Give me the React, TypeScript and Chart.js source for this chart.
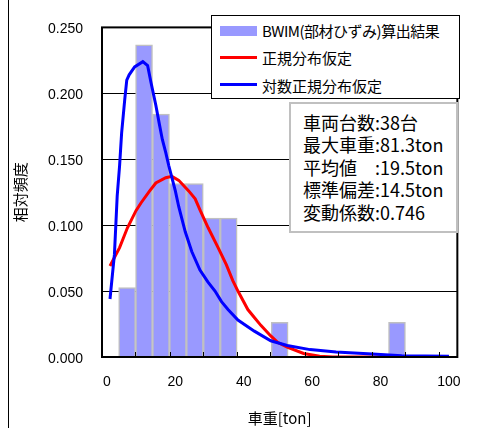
import React, { useEffect, useRef } from "react";
import { Chart, registerables } from "chart.js";

Chart.register(...registerables);

// ---- data ----
const binCenters = [5.9, 10.85, 15.8, 20.75, 25.7, 30.65, 35.6, 50.5, 84.8];
const relFreq = [0.0526, 0.2368, 0.1842, 0.1316, 0.1316, 0.1053, 0.1053, 0.0263, 0.0263];

const normalX = [0.9, 3.7, 6, 8.5, 10, 12.5, 14.3, 17.2, 19, 21, 23.9, 25.8, 27.3, 29.6, 32.5, 34.9, 36.8, 38.3, 41.2, 43.1, 45, 47.9, 50, 52.7, 57.5, 62.2, 66, 70, 80, 90, 100];
const normalY = [0.069, 0.083, 0.098, 0.111, 0.117, 0.126, 0.132, 0.136, 0.137, 0.134, 0.126, 0.12, 0.111, 0.098, 0.083, 0.07, 0.058, 0.05, 0.036, 0.03, 0.024, 0.016, 0.011, 0.0075, 0.0027, 0.0005, 0, 0, 0, 0, 0];

const logNormalX = [0.9, 2.2, 3.0, 3.7, 4.3, 5.2, 5.8, 6.5, 8.1, 10.5, 11.9, 12.9, 14.3, 15.3, 16.2, 17.2, 18.1, 20, 21, 22.9, 24.8, 27.2, 29.5, 31.6, 33.5, 35.4, 38.3, 43.1, 47.9, 52.7, 59.4, 67, 77.6, 86.2, 100];
const logNormalY = [0.044, 0.078, 0.122, 0.145, 0.17, 0.195, 0.21, 0.214, 0.22, 0.224, 0.221, 0.208, 0.191, 0.177, 0.165, 0.155, 0.145, 0.126, 0.114, 0.095, 0.08, 0.066, 0.057, 0.05, 0.042, 0.036, 0.028, 0.0196, 0.0123, 0.0087, 0.0056, 0.0038, 0.0022, 0.001, 0.0005];

const xTickValues = [0, 20, 40, 60, 80, 100];
const yTickValues = [0, 0.05, 0.1, 0.15, 0.2, 0.25];
const binEdgeTicks = [8.35, 18.3, 28.0, 38.0, 47.8, 57.8, 67.6, 77.4, 87.2, 97.0];

const xTitle = "車重[ton]";
const yTitle = "相対頻度";
const legendLabels = ["BWIM(部材ひずみ)算出結果", "正規分布仮定", "対数正規分布仮定"];
const statsLines = ["車両台数:38台", "最大車重:81.3ton", "平均値　:19.5ton", "標準偏差:14.5ton", "変動係数:0.746"];

const CJK = '"Noto Sans CJK JP", "Noto Sans", sans-serif';
const LATIN = '"Liberation Sans", Arial, sans-serif';
const BAR_COLOR = "#9999ff";

const framePlugin = {
  id: "frameAndTicks",
  afterDatasetsDraw(chart: any) {
    const { ctx, chartArea, scales } = chart;
    const { left, top, right, bottom } = chartArea;
    const x = scales.x;
    ctx.save();
    ctx.strokeStyle = "#000";
    ctx.lineWidth = 1;
    binEdgeTicks.forEach((v) => {
      const px = Math.round(x.getPixelForValue(v)) + 0.5;
      ctx.beginPath();
      ctx.moveTo(px, bottom);
      ctx.lineTo(px, bottom - 5);
      ctx.stroke();
    });
    ctx.lineWidth = 2;
    ctx.strokeRect(left, top, right - left, bottom - top);
    ctx.restore();
  },
};

export default function App() {
  const canvasRef = useRef<HTMLCanvasElement | null>(null);

  useEffect(() => {
    if (!canvasRef.current) return;
    const chart = new Chart(canvasRef.current, {
      type: "bar",
      data: {
        datasets: [
          {
            type: "line",
            label: legendLabels[2],
            data: logNormalX.map((x, i) => ({ x, y: logNormalY[i] })),
            borderColor: "#0000ff",
            borderWidth: 3,
            pointRadius: 0,
            tension: 0,
            fill: false,
            order: 0,
          } as any,
          {
            type: "line",
            label: legendLabels[1],
            data: normalX.map((x, i) => ({ x, y: normalY[i] })),
            borderColor: "#ff0000",
            borderWidth: 3,
            pointRadius: 0,
            tension: 0,
            fill: false,
            order: 1,
          } as any,
          {
            type: "bar",
            label: legendLabels[0],
            data: binCenters.map((x, i) => ({ x, y: relFreq[i] })),
            backgroundColor: BAR_COLOR,
            borderColor: "#c0c0c0",
            borderWidth: 1.5,
            barPercentage: 1,
            categoryPercentage: 1,
            order: 2,
          } as any,
        ],
      },
      options: {
        animation: false,
        responsive: true,
        maintainAspectRatio: false,
        layout: { padding: { left: 0, right: 15, top: 12, bottom: 0 } },
        plugins: { legend: { display: false }, tooltip: { enabled: false } },
        scales: {
          x: {
            type: "linear",
            offset: false,
            min: -1.44,
            max: 102.45,
            afterBuildTicks: (s: any) => {
              s.ticks = xTickValues.map((v) => ({ value: v }));
            },
            afterFit: (s: any) => {
              s.height = 71;
            },
            ticks: {
              callback: (v: any) => String(v),
              padding: 17,
              maxRotation: 0,
              autoSkip: false,
              color: "#000",
              font: { family: LATIN, size: 14 },
            },
            grid: { display: false, drawTicks: false, offset: false },
            border: { display: false },
            title: {
              display: true,
              text: xTitle,
              color: "#000",
              font: { family: CJK, size: 15 },
              padding: { top: 0, bottom: 1 },
            },
          },
          y: {
            type: "linear",
            min: 0,
            max: 0.25,
            afterBuildTicks: (s: any) => {
              s.ticks = yTickValues.map((v) => ({ value: v }));
            },
            afterFit: (s: any) => {
              s.width = 102;
            },
            ticks: {
              callback: (v: any) => Number(v).toFixed(3),
              padding: 19,
              labelOffset: 2,
              color: "#000",
              font: { family: LATIN, size: 14 },
            },
            grid: { color: "#000", lineWidth: 1, drawTicks: false },
            border: { display: false },
            title: {
              display: true,
              text: yTitle,
              color: "#000",
              font: { family: CJK, size: 15 },
              padding: { top: 11, bottom: 0 },
            },
          },
        },
      } as any,
      plugins: [framePlugin],
    });
    return () => chart.destroy();
  }, []);

  const legendTextTops = [21, 48, 75.5];
  return (
    <div style={{ position: "absolute", left: 0, top: 0, width: 478, height: 428, background: "#fff", overflow: "hidden" }}>
      <div style={{ position: "absolute", left: 0, top: 0, width: 478, height: 428 }}>
        <canvas ref={canvasRef} style={{ display: "block" }} />
      </div>
      <div style={{ position: "absolute", left: 8, top: 0, width: 1, height: 428, background: "#000" }} />
      {/* legend */}
      <div style={{ position: "absolute", left: 211, top: 15, width: 249, height: 84, boxSizing: "border-box", border: "1px solid #000", background: "#fff" }} />
      <div style={{ position: "absolute", left: 220, top: 26, width: 37, height: 10, background: BAR_COLOR }} />
      <div style={{ position: "absolute", left: 220, top: 55.5, width: 37, height: 3, background: "#ff0000" }} />
      <div style={{ position: "absolute", left: 220, top: 82.5, width: 37, height: 3, background: "#0000ff" }} />
      {legendLabels.map((t, i) => (
        <div
          key={t}
          style={{
            position: "absolute",
            left: 262,
            top: legendTextTops[i],
            fontFamily: CJK,
            fontSize: 15,
            lineHeight: "20px",
            whiteSpace: "nowrap",
            color: "#000",
            letterSpacing: i === 0 ? "-0.5px" : "0px",
          }}
        >
          {t}
        </div>
      ))}
      {/* stats box */}
      <div style={{ position: "absolute", left: 289, top: 102, width: 169, height: 131, boxSizing: "border-box", border: "2px solid #c0c0c0", background: "#fff" }} />
      <div style={{ position: "absolute", left: 303, top: 110.5, fontFamily: CJK, fontSize: 18, lineHeight: "22.5px", whiteSpace: "nowrap", color: "#000" }}>
        {statsLines.map((t) => (
          <div key={t}>{t}</div>
        ))}
      </div>
    </div>
  );
}
